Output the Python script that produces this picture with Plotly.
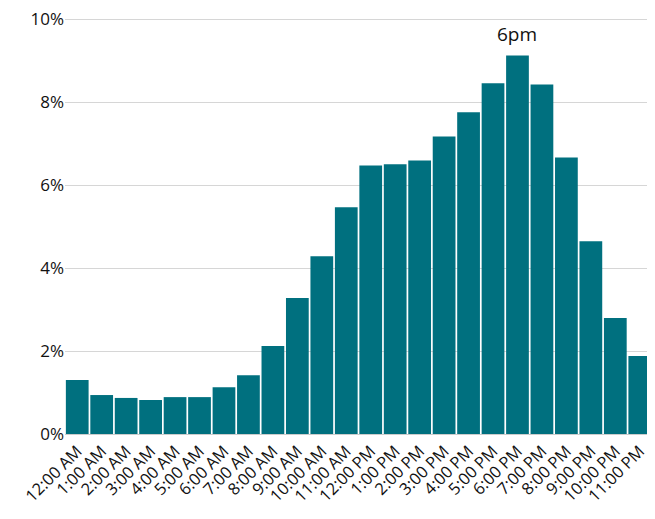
import plotly.graph_objects as go

hours = ["12:00 AM", "1:00 AM", "2:00 AM", "3:00 AM", "4:00 AM", "5:00 AM",
         "6:00 AM", "7:00 AM", "8:00 AM", "9:00 AM", "10:00 AM", "11:00 AM",
         "12:00 PM", "1:00 PM", "2:00 PM", "3:00 PM", "4:00 PM", "5:00 PM",
         "6:00 PM", "7:00 PM", "8:00 PM", "9:00 PM", "10:00 PM", "11:00 PM"]
share = [1.30, 0.94, 0.87, 0.82, 0.89, 0.89, 1.13, 1.42, 2.12, 3.28, 4.29, 5.47,
         6.48, 6.51, 6.60, 7.18, 7.76, 8.46, 9.13, 8.43, 6.67, 4.65, 2.80, 1.88]
peak_label = "6pm"
peak_idx = share.index(max(share))

font = "'Open Sans', sans-serif"
fig = go.Figure(go.Bar(x=hours, y=share, marker=dict(color="#00707f", line=dict(width=0))))
fig.add_annotation(x=hours[peak_idx], y=share[peak_idx], text=peak_label, showarrow=False,
                   yshift=22, font=dict(size=19, color="#111", family=font))
fig.update_layout(
    width=647, height=511, margin=dict(l=57, r=3, t=9, b=85),
    plot_bgcolor="white", paper_bgcolor="white", bargap=0.07, showlegend=False,
    font=dict(family=font, color="#111"),
)
fig.update_xaxes(tickangle=-45, tickfont=dict(size=16.5), showgrid=False, ticks="",
                 showline=True, linecolor="#ccc", linewidth=1, automargin=False)
fig.update_yaxes(range=[0, 10.06], tickvals=[0, 2, 4, 6, 8, 10],
                 ticktext=["0%", "2%", "4%", "6%", "8%", "10%"], tickfont=dict(size=17),
                 gridcolor="#d6d6d6", gridwidth=1, zeroline=False, ticklen=0, ticks="",
                 automargin=False, ticklabeloverflow="allow")
fig.write_html("out.html")
